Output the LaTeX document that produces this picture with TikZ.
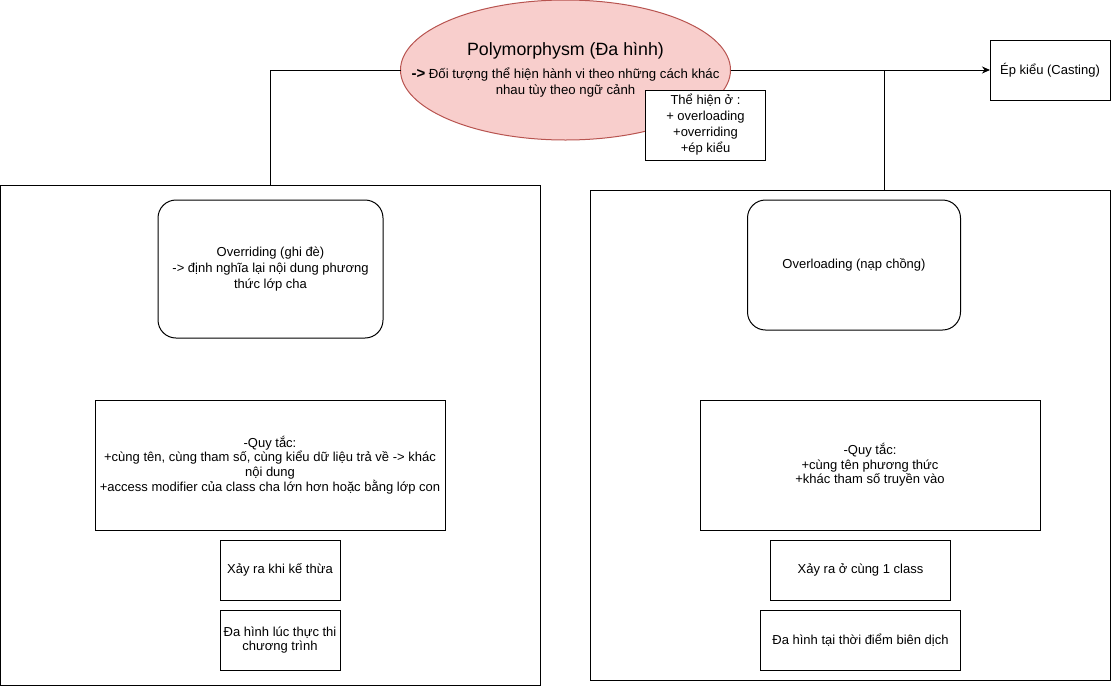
\documentclass[tikz,border=0pt]{standalone}
\usepackage{fontspec}
\setmainfont{Liberation Sans}
\usetikzlibrary{shapes.geometric,arrows.meta}
\definecolor{polyfill}{RGB}{248,206,204}
\definecolor{polydraw}{RGB}{184,84,80}
\tikzset{
  box/.style={draw=black,line width=1pt,fill=white,rectangle,inner sep=0pt,outer sep=0pt,align=center,font=\fontsize{13}{14.6}\selectfont},
  rbox/.style={box,rounded corners=18pt,font=\fontsize{13}{15.8}\selectfont},
  conn/.style={draw=black,line width=1pt},
}
\begin{document}
\begin{tikzpicture}[x=1pt,y=-1pt]
\useasboundingbox (0,0) rectangle (1111,686);
% big containers
\node[box,minimum width=540,minimum height=500] (leftbox) at (270,435) {};
\node[box,minimum width=520,minimum height=490] (rightbox) at (850,435) {};
% central ellipse
\node[draw=polydraw,fill=polyfill,ellipse,line width=1pt,minimum width=330,minimum height=140,inner sep=0pt,outer sep=0pt] (poly) at (565.5,70) {};
\node[font=\fontsize{17.8}{20}\selectfont,inner sep=0pt] (polytitle) at (565.5,51) {Polymorphysm (Đa hình)};
\node[font=\fontsize{13.2}{16}\selectfont,align=center,inner sep=0pt] (polybody) at (565.5,83) {{\fontsize{15}{16}\selectfont\textbf{->}} Đối tượng thể hiện hành vi theo những cách khác\\nhau tùy theo ngữ cảnh};
% side boxes
\node[box,minimum width=120,minimum height=70,font=\fontsize{13}{16}\selectfont] (thehien) at (705.5,125) {Thể hiện ở :\\+ overloading\\+overriding\\+ép kiểu};
\node[box,minimum width=120,minimum height=60] (casting) at (1050,70) {Ép kiểu (Casting)};
% left column
\node[rbox,minimum width=225,minimum height=138] (overriding) at (270.5,269) {Overriding (ghi đè)\\-> định nghĩa lại nội dung phương\\thức lớp cha};
\node[box,minimum width=350,minimum height=130] (lrules) at (270,465) {-Quy tắc:\\+cùng tên, cùng tham số, cùng kiểu dữ liệu trả về -> khác\\nội dung\\+access modifier của class cha lớn hơn hoặc bằng lớp con};
\node[box,minimum width=120,minimum height=60] (kethua) at (280,570) {Xảy ra khi kế thừa};
\node[box,minimum width=120,minimum height=60] (thucthi) at (280,640) {Đa hình lúc thực thi\\chương trình};
% right column
\node[rbox,minimum width=213,minimum height=130] (overloading) at (854,265) {Overloading (nạp chồng)};
\node[box,minimum width=340,minimum height=130] (rrules) at (870,465) {-Quy tắc:\\+cùng tên phương thức\\+khác tham số truyền vào};
\node[box,minimum width=180,minimum height=60] (cungclass) at (860.5,570) {Xảy ra ở cùng 1 class};
\node[box,minimum width=200,minimum height=60] (biendich) at (860.5,640) {Đa hình tại thời điểm biên dịch};
% connectors
\draw[conn] (poly.west) -| (leftbox.north);
\draw[conn,-{Stealth[length=8pt,width=7pt]}] (poly.east) -- (casting.west);
\coordinate (rtop) at ([xshift=34pt]rightbox.north);
\draw[conn] (poly.east) -| (rtop);
\end{tikzpicture}
\end{document}
